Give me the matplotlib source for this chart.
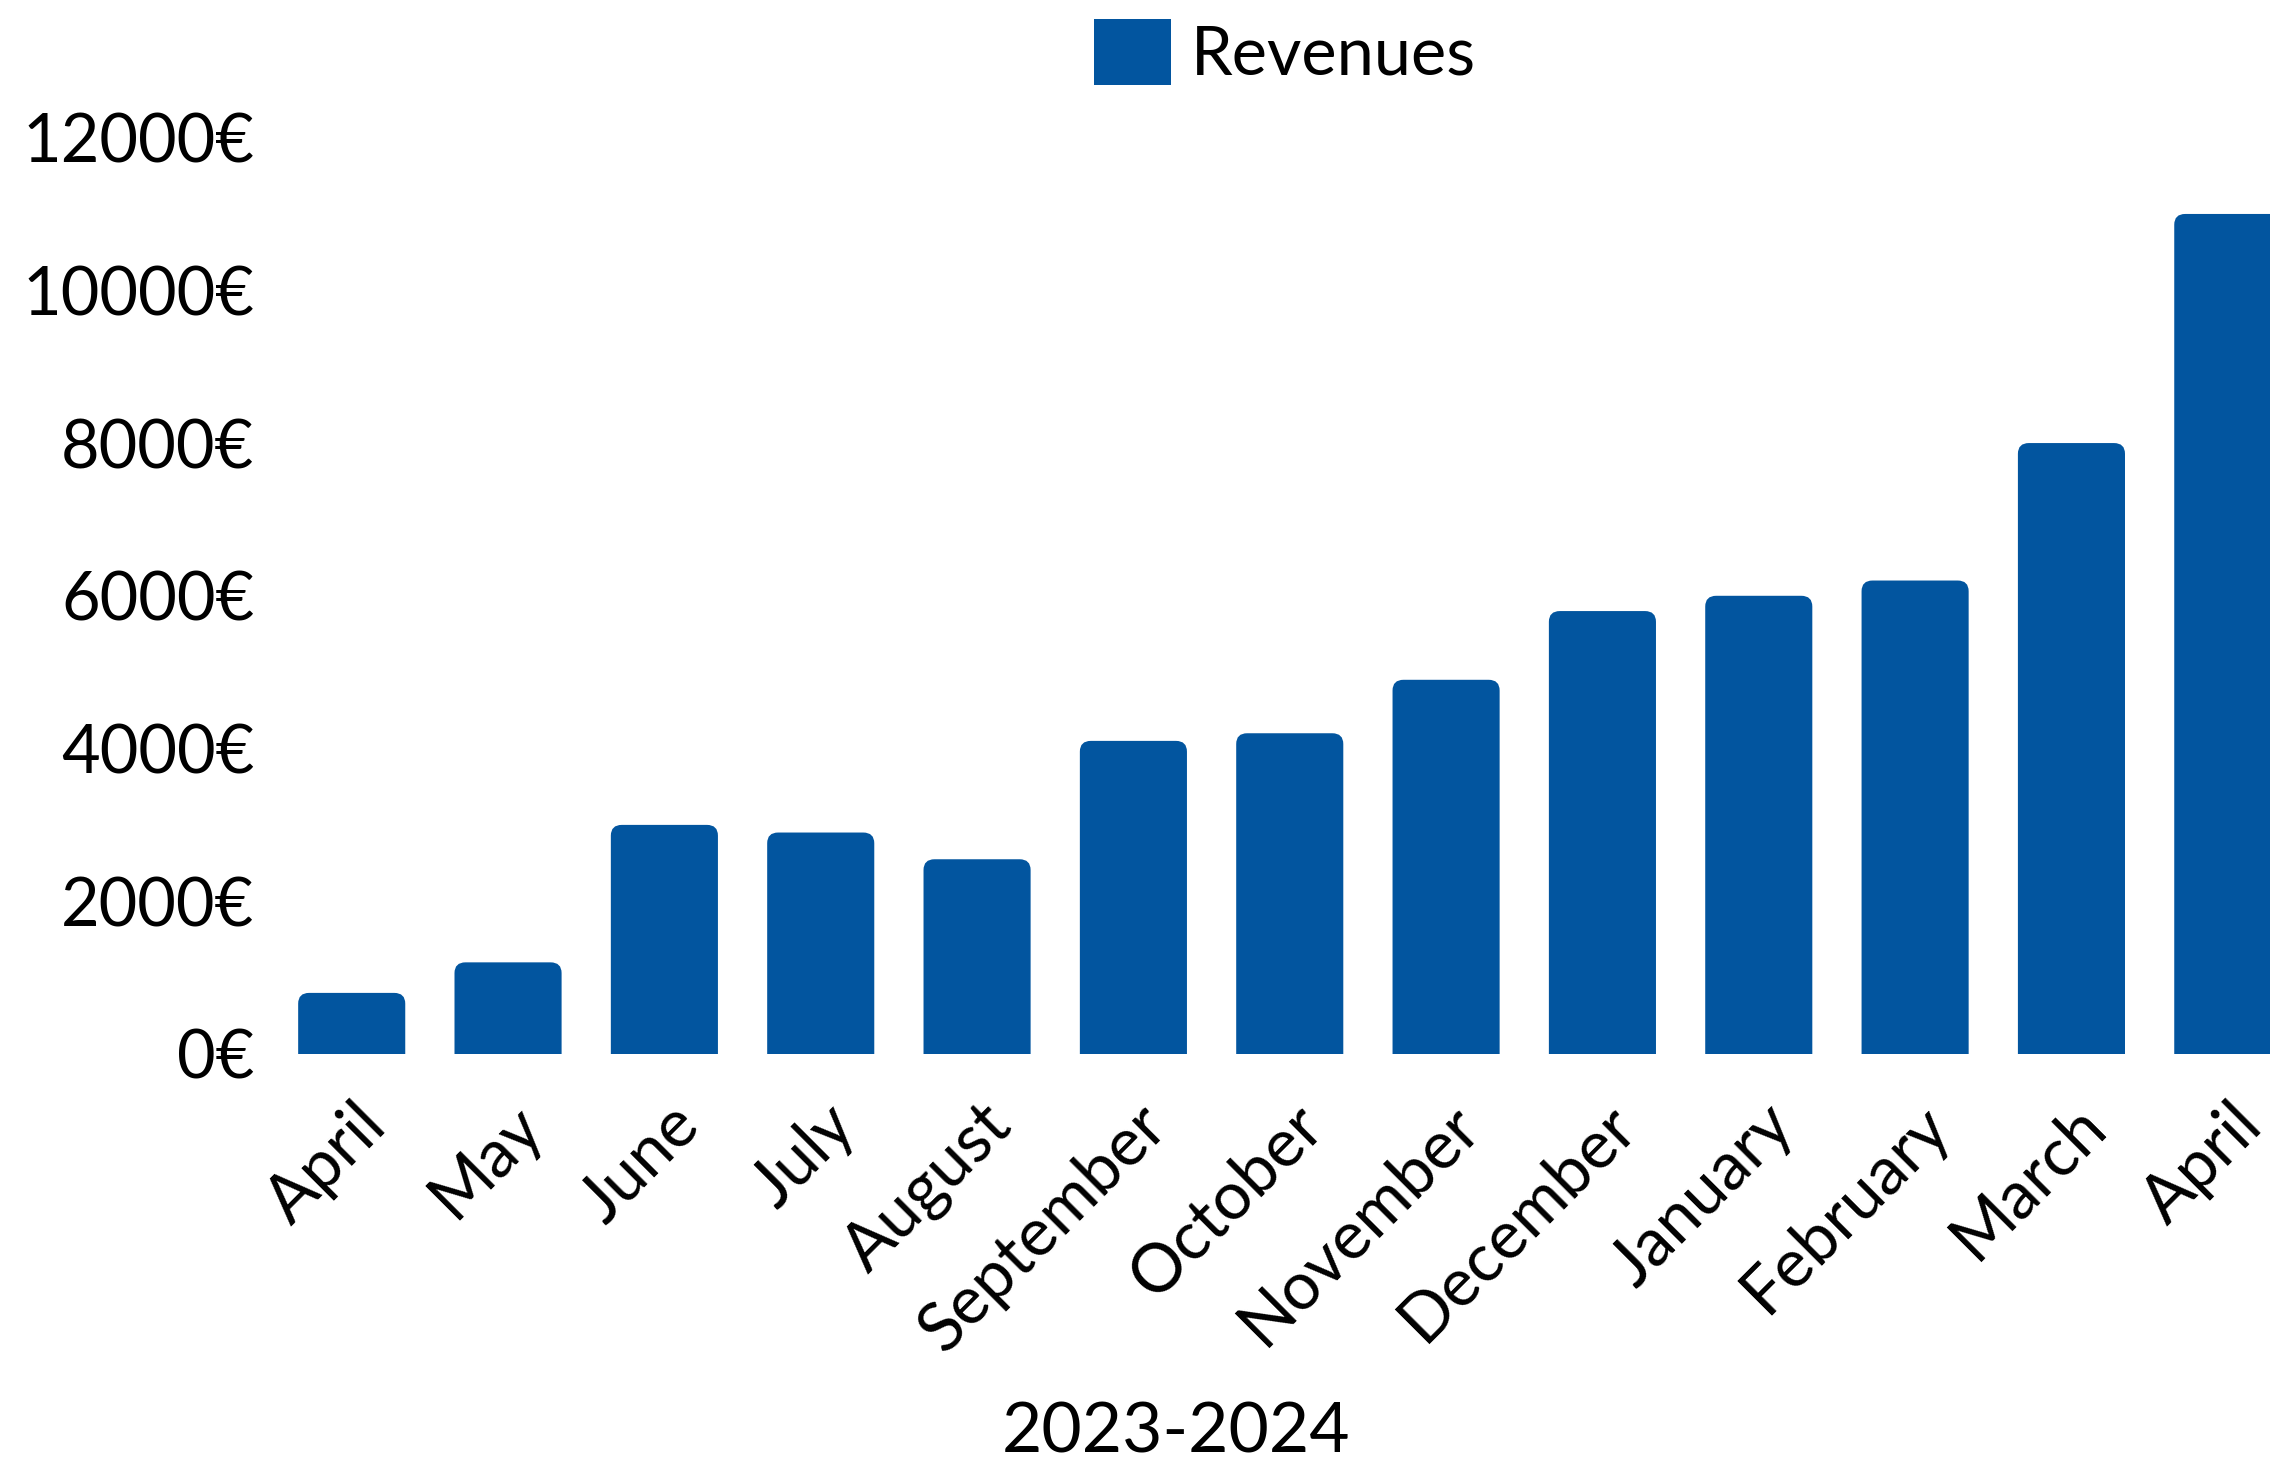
import matplotlib.pyplot as plt
import matplotlib.transforms as mtransforms
from matplotlib.patches import FancyBboxPatch, Patch

# === data ===
months = ["April", "May", "June", "July", "August", "September", "October",
          "November", "December", "January", "February", "March", "April"]
revenues = [800, 1200, 3000, 2900, 2550, 4100, 4200, 4900, 5800, 6000, 6200, 8000, 11000]
y_ticks = [0, 2000, 4000, 6000, 8000, 10000, 12000]
y_labels = [f"{v}€" for v in y_ticks]

blue = "#02559f"
plt.rcParams["font.family"] = ["Lato", "DejaVu Sans"]

fig = plt.figure(figsize=(22.7, 14.7), dpi=100)
ax = fig.add_axes([0.1205, 0.283, 1 - 0.1205, 0.6234])

x = list(range(len(months)))
bars = ax.bar(x, revenues, width=0.685, color=blue)

# rounded tops: swap each bar for a rounded box based on its geometry
for b in bars:
    b.set_visible(False)
    fb = FancyBboxPatch((b.get_x(), -300), b.get_width(), b.get_height() + 300,
                        boxstyle="round,pad=0,rounding_size=0.07",
                        mutation_aspect=2000, facecolor=blue, edgecolor="none",
                        clip_on=True)
    ax.add_patch(fb)

ax.set_xlim(-0.5, 12.27)
ax.set_ylim(0, 12000)
ax.set_yticks(y_ticks)
ax.set_yticklabels(y_labels, fontsize=48)
ax.set_xticks(x)
ax.set_xticklabels(months, fontsize=48, rotation=45, ha="right",
                   va="center", rotation_mode="anchor")
ax.tick_params(axis="both", length=0)
ax.tick_params(axis="y", pad=14)
ax.tick_params(axis="x", pad=44)
shift = mtransforms.ScaledTranslation(0.24, 0.0, fig.dpi_scale_trans)
for lab in ax.get_xticklabels():
    lab.set_transform(lab.get_transform() + shift)
for s in ax.spines.values():
    s.set_visible(False)

fig.text(0.518, 0.012, "2023-2024", fontsize=50, ha="center", va="baseline")

fig.legend(handles=[Patch(facecolor=blue, edgecolor="none", label="Revenues")],
           loc="upper center", bbox_to_anchor=(0.566, 1.028), fontsize=48,
           frameon=False, handlelength=1.15, handleheight=1.15, handletextpad=0.3)

fig.savefig("out.png", dpi=100)
